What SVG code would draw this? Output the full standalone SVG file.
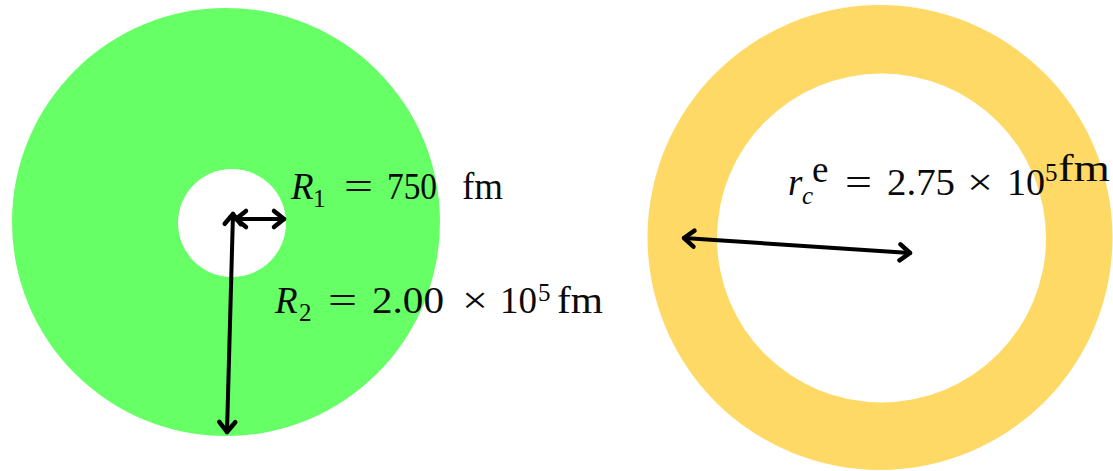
<svg xmlns="http://www.w3.org/2000/svg" width="1113" height="471" viewBox="0 0 1113 471">
<style>
.t{font-family:"Liberation Serif","Times New Roman",serif;font-size:37px;fill:#0a0a0a}
.i{font-style:italic}
.s{font-size:25px}
.ln{stroke:#000;stroke-width:4;fill:none;stroke-linecap:round}
</style>
<defs>
<marker id="ah" markerUnits="userSpaceOnUse" markerWidth="30" markerHeight="30" refX="15" refY="15" orient="auto-start-reverse" viewBox="0 0 30 30">
<path d="M5,7 L15,15 L5,23" fill="none" stroke="#000" stroke-width="4.5" stroke-linecap="round" stroke-linejoin="round"/>
</marker>
</defs>
<rect width="1113" height="471" fill="#fff"/>
<g id="green-sphere">
<circle cx="226" cy="222" r="214" fill="#66FF66"/>
<circle cx="232" cy="223" r="54" fill="#fff"/>
</g>
<g id="yellow-ring">
<circle cx="880" cy="237.5" r="232.5" fill="#FFD966"/>
<circle cx="881.5" cy="238" r="164.5" fill="#fff"/>
</g>
<g id="connectors">
<line class="ln" x1="233" y1="214" x2="227" y2="432" marker-start="url(#ah)" marker-end="url(#ah)"/>
<line class="ln" x1="236" y1="219" x2="284" y2="219" marker-start="url(#ah)" marker-end="url(#ah)"/>
<line class="ln" x1="684" y1="238" x2="910" y2="253" marker-start="url(#ah)" marker-end="url(#ah)"/>
</g>
<g id="label-R1">
<text class="t i" x="291" y="199">R</text>
<text class="t s" x="313" y="207">1</text>
<text class="t" x="344" y="199" textLength="29" lengthAdjust="spacingAndGlyphs">=</text>
<text class="t" x="387" y="199" textLength="50" lengthAdjust="spacingAndGlyphs">750</text>
<text class="t" x="462" y="199" textLength="41" lengthAdjust="spacingAndGlyphs">fm</text>
</g>
<g id="label-R2">
<text class="t i" x="275" y="313">R</text>
<text class="t s" x="299" y="321">2</text>
<text class="t" x="328" y="313" textLength="29" lengthAdjust="spacingAndGlyphs">=</text>
<text class="t" x="372" y="313" textLength="72" lengthAdjust="spacingAndGlyphs">2.00</text>
<text class="t" x="462" y="313" textLength="26" lengthAdjust="spacingAndGlyphs">×</text>
<text class="t" x="500" y="313" textLength="37" lengthAdjust="spacingAndGlyphs">10</text>
<text class="t s" x="538" y="301">5</text>
<text class="t" x="557" y="313" textLength="46" lengthAdjust="spacingAndGlyphs">fm</text>
</g>
<g id="label-rc">
<text class="t i" x="788" y="195">r</text>
<text class="t i s" x="802" y="204">c</text>
<text class="t" x="812" y="182" font-size="35">e</text>
<text class="t" x="845" y="195" textLength="27" lengthAdjust="spacingAndGlyphs">=</text>
<text class="t" x="887" y="195" textLength="68" lengthAdjust="spacingAndGlyphs">2.75</text>
<text class="t" x="967" y="195" textLength="26" lengthAdjust="spacingAndGlyphs">×</text>
<text class="t" x="1007" y="195" textLength="38" lengthAdjust="spacingAndGlyphs">10</text>
<text class="t s" x="1045" y="181">5</text>
<text class="t" x="1058" y="181" textLength="52" lengthAdjust="spacingAndGlyphs">fm</text>
</g>
</svg>
